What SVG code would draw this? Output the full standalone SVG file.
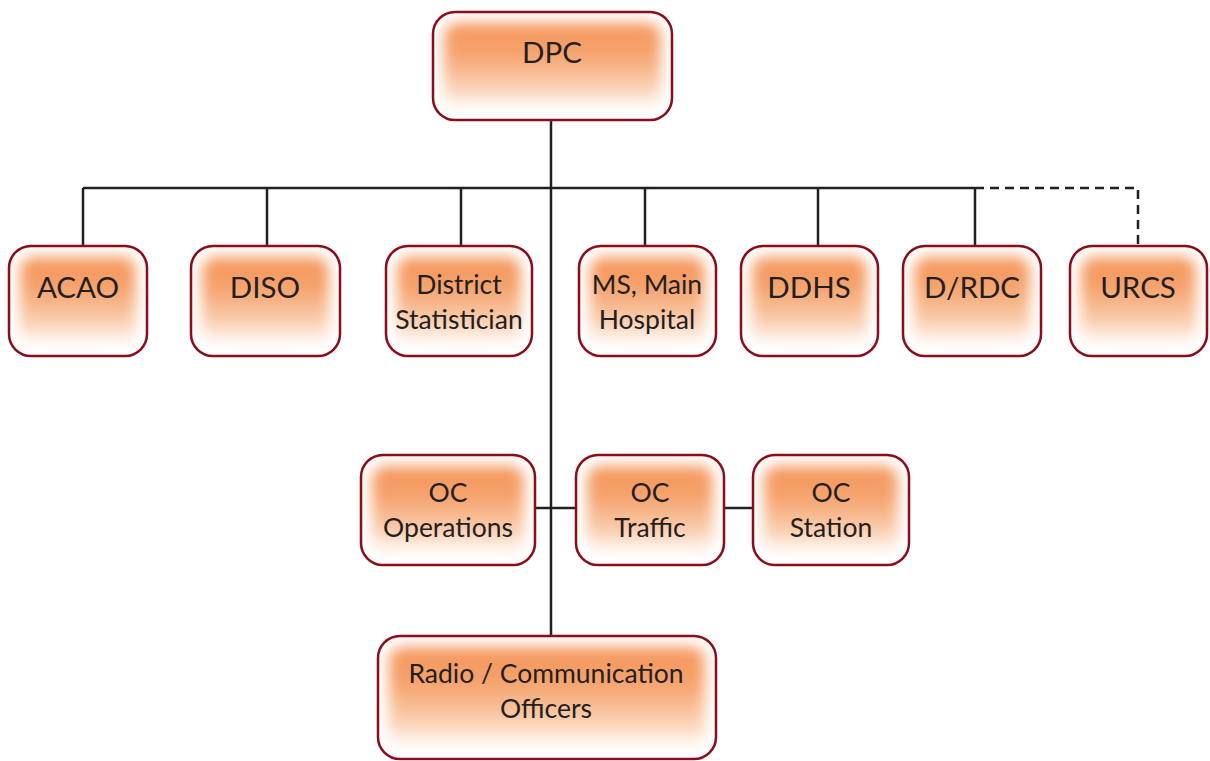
<svg xmlns="http://www.w3.org/2000/svg" width="1210" height="761" viewBox="0 0 1210 761">
<defs>
<linearGradient id="og" x1="0" y1="0" x2="0" y2="1">
<stop offset="0" stop-color="#F4955A"/>
<stop offset="0.35" stop-color="#F5A26C"/>
<stop offset="0.75" stop-color="#FAD0B2"/>
<stop offset="1" stop-color="#FFFFFF"/>
</linearGradient>
<filter id="soft" x="-30%" y="-30%" width="160%" height="160%">
<feGaussianBlur stdDeviation="7"/>
</filter>
</defs>
<style>
.bg{fill:#ffffff;stroke:none}
.glow{fill:url(#og);filter:url(#soft)}
.frame{fill:none;stroke:#8B0D1C;stroke-width:2.5}
text{font-family:Lato,"Open Sans","Liberation Sans",sans-serif;fill:#231F20;text-anchor:middle}
.big{font-size:29.5px}
.sm{font-size:26.5px}
.ln{fill:none;stroke:#231F20;stroke-width:2.5}
.dash{fill:none;stroke:#231F20;stroke-width:2.5;stroke-dasharray:9 6}
</style>
<rect width="1210" height="761" fill="#ffffff"/>
<g id="connectors">
<line class="ln" x1="551" y1="120" x2="551" y2="636"/>
<line class="ln" x1="83" y1="188" x2="975" y2="188"/>
<line class="ln" x1="83" y1="188" x2="83" y2="246"/>
<line class="ln" x1="267" y1="188" x2="267" y2="246"/>
<line class="ln" x1="461" y1="188" x2="461" y2="246"/>
<line class="ln" x1="645" y1="188" x2="645" y2="246"/>
<line class="ln" x1="818" y1="188" x2="818" y2="246"/>
<line class="ln" x1="975" y1="188" x2="975" y2="246"/>
<path class="dash" d="M975,188 H1138 V246"/>
<line class="ln" x1="535" y1="508" x2="576" y2="508"/>
<line class="ln" x1="724" y1="508" x2="753" y2="508"/>
</g>
<g id="n-dpc">
<rect class="bg" x="433" y="12" width="239" height="108" rx="22"/>
<rect class="glow" x="444" y="23" width="217" height="86" rx="14"/>
<rect class="frame" x="433" y="12" width="239" height="108" rx="22"/>
<text class="big" x="552" y="63">DPC</text>
</g>
<g id="n-acao">
<rect class="bg" x="9" y="246" width="138" height="110" rx="22"/>
<rect class="glow" x="20" y="257" width="116" height="88" rx="14"/>
<rect class="frame" x="9" y="246" width="138" height="110" rx="22"/>
<text class="big" x="78" y="298">ACAO</text>
</g>
<g id="n-diso">
<rect class="bg" x="191" y="246" width="149" height="110" rx="22"/>
<rect class="glow" x="202" y="257" width="127" height="88" rx="14"/>
<rect class="frame" x="191" y="246" width="149" height="110" rx="22"/>
<text class="big" x="265" y="298">DISO</text>
</g>
<g id="n-stat">
<rect class="bg" x="386" y="246" width="146" height="110" rx="22"/>
<rect class="glow" x="397" y="257" width="124" height="88" rx="14"/>
<rect class="frame" x="386" y="246" width="146" height="110" rx="22"/>
<text class="sm" x="459" y="294">District</text>
<text class="sm" x="459" y="329">Statistician</text>
</g>
<g id="n-ms">
<rect class="bg" x="579" y="246" width="137" height="110" rx="22"/>
<rect class="glow" x="590" y="257" width="115" height="88" rx="14"/>
<rect class="frame" x="579" y="246" width="137" height="110" rx="22"/>
<text class="sm" x="647" y="294">MS, Main</text>
<text class="sm" x="647" y="329">Hospital</text>
</g>
<g id="n-ddhs">
<rect class="bg" x="741" y="246" width="137" height="110" rx="22"/>
<rect class="glow" x="752" y="257" width="115" height="88" rx="14"/>
<rect class="frame" x="741" y="246" width="137" height="110" rx="22"/>
<text class="big" x="809" y="298">DDHS</text>
</g>
<g id="n-drdc">
<rect class="bg" x="903" y="246" width="138" height="110" rx="22"/>
<rect class="glow" x="914" y="257" width="116" height="88" rx="14"/>
<rect class="frame" x="903" y="246" width="138" height="110" rx="22"/>
<text class="big" x="972" y="298">D/RDC</text>
</g>
<g id="n-urcs">
<rect class="bg" x="1070" y="246" width="137" height="110" rx="22"/>
<rect class="glow" x="1081" y="257" width="115" height="88" rx="14"/>
<rect class="frame" x="1070" y="246" width="137" height="110" rx="22"/>
<text class="big" x="1138" y="298">URCS</text>
</g>
<g id="n-ocops">
<rect class="bg" x="361" y="455" width="174" height="110" rx="22"/>
<rect class="glow" x="372" y="466" width="152" height="88" rx="14"/>
<rect class="frame" x="361" y="455" width="174" height="110" rx="22"/>
<text class="sm" x="448" y="502">OC</text>
<text class="sm" x="448" y="537">Operations</text>
</g>
<g id="n-octraffic">
<rect class="bg" x="576" y="455" width="148" height="110" rx="22"/>
<rect class="glow" x="587" y="466" width="126" height="88" rx="14"/>
<rect class="frame" x="576" y="455" width="148" height="110" rx="22"/>
<text class="sm" x="650" y="502">OC</text>
<text class="sm" x="650" y="537">Traffic</text>
</g>
<g id="n-ocstation">
<rect class="bg" x="753" y="455" width="156" height="110" rx="22"/>
<rect class="glow" x="764" y="466" width="134" height="88" rx="14"/>
<rect class="frame" x="753" y="455" width="156" height="110" rx="22"/>
<text class="sm" x="831" y="502">OC</text>
<text class="sm" x="831" y="537">Station</text>
</g>
<g id="n-radio">
<rect class="bg" x="378" y="636" width="338" height="123" rx="22"/>
<rect class="glow" x="389" y="647" width="316" height="101" rx="14"/>
<rect class="frame" x="378" y="636" width="338" height="123" rx="22"/>
<text class="sm" x="546" y="683">Radio / Communication</text>
<text class="sm" x="546" y="718">Officers</text>
</g>
</svg>
